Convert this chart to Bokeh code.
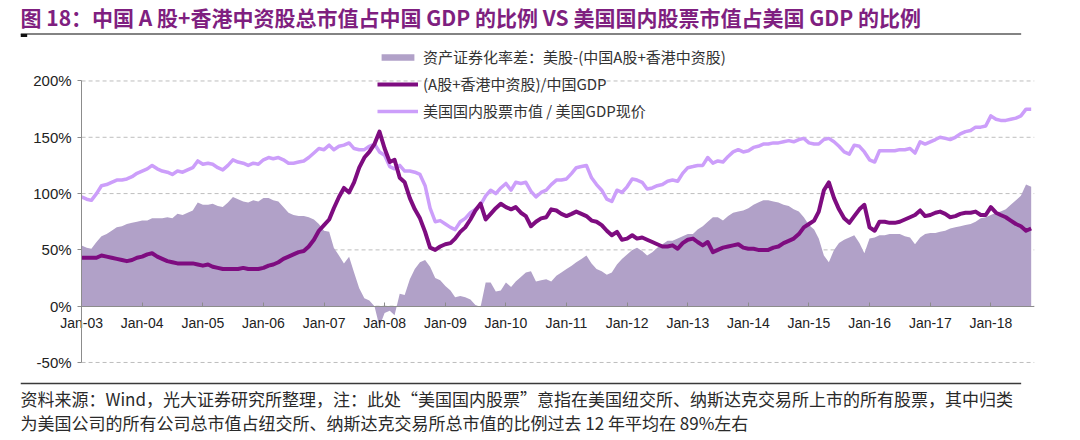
import pandas as pd
from datetime import datetime
from bokeh.plotting import figure
from bokeh.models import (ColumnDataSource, Range1d, FixedTicker, PrintfTickFormatter,
                          Legend, LegendItem)
from bokeh.layouts import column
from bokeh.embed import file_html
from bokeh.resources import INLINE
from bokeh.core.properties import value

# ---------------- texts ----------------
TITLE = "图 18：中国 A 股+香港中资股总市值占中国 GDP 的比例  VS  美国国内股票市值占美国 GDP 的比例"
SERIES_NAMES = [
    "资产证券化率差：美股-(中国A股+香港中资股)",
    "(A股+香港中资股)/中国GDP",
    "美国国内股票市值 / 美国GDP现价",
]
NOTE_LINES = [
    "资料来源：Wind，光大证券研究所整理，注：此处“美国国内股票”意指在美国纽交所、纳斯达克交易所上市的所有股票，其中归类",
    "为美国公司的所有公司总市值占纽交所、纳斯达克交易所总市值的比例过去 12 年平均在 89%左右",
]
START_MONTH = "2003-01-01"
TICK_LABELS = ["Jan-03", "Jan-04", "Jan-05", "Jan-06", "Jan-07", "Jan-08", "Jan-09", "Jan-10",
               "Jan-11", "Jan-12", "Jan-13", "Jan-14", "Jan-15", "Jan-16", "Jan-17", "Jan-18"]
Y_TICKS = [-50, 0, 50, 100, 150, 200]

# ---------------- data (% , monthly from Jan-03) ----------------
gap_pct = [
    54, 52, 51, 57, 62, 64, 67, 70, 71, 73, 74, 75,
    76, 76, 78, 78, 78, 79, 78, 82, 81, 83, 85, 92,
    90, 90, 91, 89, 88, 92, 97, 95, 93, 92, 94, 93,
    96, 96, 94, 93, 88, 83, 81, 80, 80, 79, 77, 73,
    67, 66, 52, 45, 38, 44, 30, 16, 7, 5, 0, -18,
    -6, -4, -8, 11, 10, 24, 33, 39, 41, 35, 25, 23,
    18, 14, 8, 9, 8, 6, 1, -1, 21, 21, 13, 14,
    21, 17, 22, 26, 30, 31, 22, 23, 24, 22, 27, 30,
    33, 36, 39, 42, 45, 38, 33, 31, 28, 30, 37, 42,
    46, 50, 52, 49, 45, 48, 52, 55, 58, 58, 60, 62,
    64, 64, 68, 71, 75, 79, 79, 76, 80, 83, 84, 85,
    87, 90, 92, 94, 94, 93, 92, 90, 89, 86, 84, 79,
    72, 68, 60, 45, 39, 50, 56, 59, 61, 63, 56, 47,
    60, 61, 63, 63, 64, 64, 64, 62, 61, 55, 61, 64,
    65, 65, 66, 67, 69, 70, 71, 72, 73, 75, 78, 79,
    81, 83, 84, 86, 90, 94, 98, 108, 106,
]
china_pct = [
    43, 43, 43, 43, 45, 44, 43, 42, 41, 40, 41, 43,
    44, 46, 47, 44, 42, 40, 39, 38, 38, 38, 38, 37,
    36, 37, 35, 34, 33, 33, 33, 33, 34, 33, 33, 33,
    34, 36, 37, 39, 42, 44, 46, 48, 49, 53, 59, 67,
    72, 77, 87, 97, 105, 101, 110, 123, 132, 137, 144, 155,
    140, 128, 130, 114, 110, 96, 86, 78, 66, 52, 50, 53,
    55, 56, 60, 66, 70, 77, 85, 91, 77, 82, 87, 91,
    88, 86, 88, 83, 80, 71, 75, 78, 79, 86, 85, 82,
    80, 82, 84, 82, 80, 76, 75, 72, 67, 63, 66, 59,
    60, 63, 60, 61, 59, 57, 55, 53, 53, 54, 51, 56,
    59, 60, 57, 54, 57, 48, 50, 52, 53, 54, 55, 52,
    51, 51, 50, 50, 50, 52, 53, 56, 58, 60, 64, 70,
    73, 76, 84, 103, 110, 96, 86, 78, 74, 80, 86, 90,
    70, 67, 75, 75, 74, 74, 75, 77, 79, 81, 85, 80,
    81, 83, 84, 82, 79, 80, 82, 83, 83, 84, 81, 81,
    88, 83, 81, 79, 76, 73, 71, 67, 69,
]
us_pct = [
    97, 95, 94, 100, 107, 108, 110, 112, 112, 113, 115, 118,
    120, 122, 125, 122, 120, 119, 117, 120, 119, 121, 123, 129,
    126, 127, 126, 123, 121, 125, 130, 128, 127, 125, 127, 126,
    130, 132, 131, 132, 130, 127, 127, 128, 129, 132, 136, 140,
    139, 143, 139, 142, 143, 145, 140, 139, 139, 142, 144, 137,
    134, 124, 122, 125, 120, 120, 119, 117, 107, 87, 75, 76,
    73, 70, 68, 75, 78, 83, 86, 90, 98, 103, 100, 105,
    109, 103, 110, 109, 110, 102, 97, 101, 103, 108, 112, 112,
    113, 118, 123, 124, 125, 114, 108, 103, 95, 93, 103, 101,
    106, 113, 112, 110, 104, 105, 107, 108, 111, 112, 111, 118,
    123, 124, 125, 125, 132, 127, 129, 128, 133, 137, 139, 137,
    138, 141, 142, 144, 144, 145, 145, 146, 147, 146, 148, 149,
    145, 144, 144, 148, 149, 146, 142, 137, 135, 143, 142, 137,
    130, 128, 138, 138, 138, 138, 139, 139, 140, 136, 146, 144,
    146, 148, 150, 149, 148, 150, 153, 155, 156, 159, 159, 160,
    169, 166, 165, 165, 166, 167, 169, 175, 175,
]

dates = pd.date_range(START_MONTH, periods=len(us_pct), freq="MS")
src = ColumnDataSource(dict(date=dates, gap=gap_pct, china=china_pct, us=us_pct))

# ---------------- styles ----------------
CJK = "Noto Sans CJK SC"
LATIN = "Liberation Sans"
TITLE_COLOR = "#7F1F80"
GAP_COLOR = "#B1A1C8"
CN_COLOR = "#7E0C80"
US_COLOR = "#CC9EFA"
AXIS_GRAY = "#8C8C8C"
GRID_GRAY = "#BEBEBE"
TEXT_COLOR = "#222222"
W = 1064


def to_ms(ts):
    return (pd.Timestamp(ts) - pd.Timestamp("1970-01-01")).total_seconds() * 1000.0


def tick_ms(label):
    return to_ms(datetime(2000 + int(label.split("-")[1]), 1, 1))


x_ticks = [tick_ms(l) for l in TICK_LABELS]
axis_start = x_ticks[0]
view_start = to_ms(pd.Timestamp(START_MONTH) - pd.Timedelta(days=368))
view_end = to_ms("2018-09-21")


def deco_fig(h):
    f = figure(width=W, height=h, x_range=Range1d(0, W), y_range=Range1d(h, 0),
               toolbar_location=None, output_backend="svg", min_border=0,
               outline_line_color=None, x_axis_location=None, y_axis_location=None,
               title=None)
    f.grid.visible = False
    return f


# ---------------- header ----------------
head = deco_fig(44)
head.text(x=[0], y=[16.5], text=[TITLE], text_font=value(CJK), text_font_style="bold",
          text_font_size="21px", text_color=TITLE_COLOR, text_baseline="middle",
          text_align="left")
head.segment(x0=[0], y0=[33.5], x1=[1050], y1=[33.5], line_color="#5A5A5A", line_width=1.5)
head.segment(x0=[0], y0=[35], x1=[7], y1=[35], line_color="#111111", line_width=3)

# ---------------- main chart ----------------
p = figure(width=W, height=328, x_axis_type="datetime",
           x_range=Range1d(view_start, view_end),
           y_range=Range1d(-58.9, 232.4),
           toolbar_location=None, output_backend="svg",
           min_border_left=20, min_border_right=30, min_border_top=0, min_border_bottom=0,
           outline_line_color=None, title=None, background_fill_color="white")

# dashed grid lines, from the y axis to the right edge
n = len(Y_TICKS)
p.segment(x0=[axis_start] * n, y0=Y_TICKS, x1=[view_end] * n, y1=Y_TICKS,
          line_color=GRID_GRAY, line_dash="4 3", line_width=1, level="underlay")

r_gap = p.varea(x="date", y1=0, y2="gap", source=src, fill_color=GAP_COLOR, fill_alpha=1.0)
r_us = p.line("date", "us", source=src, line_color=US_COLOR, line_width=3.5, line_join="round")
r_cn = p.line("date", "china", source=src, line_color=CN_COLOR, line_width=4, line_join="round")

xa = p.xaxis[0]
xa.fixed_location = 0
xa.bounds = (axis_start, view_end)
xa.ticker = FixedTicker(ticks=x_ticks)
xa.major_label_overrides = dict(zip(x_ticks, TICK_LABELS))
xa.minor_tick_line_color = None
xa.major_tick_in = 4
xa.major_tick_out = 0
xa.axis_line_color = AXIS_GRAY
xa.major_tick_line_color = AXIS_GRAY
xa.major_label_text_font = LATIN
xa.major_label_text_font_size = "14px"
xa.major_label_text_color = TEXT_COLOR
xa.major_label_standoff = 9

ya = p.yaxis[0]
ya.fixed_location = axis_start
ya.ticker = FixedTicker(ticks=Y_TICKS)
ya.formatter = PrintfTickFormatter(format="%d%%")
ya.bounds = (-50, 200)
ya.major_tick_out = 4
ya.major_tick_in = 0
ya.minor_tick_line_color = None
ya.axis_line_color = AXIS_GRAY
ya.major_tick_line_color = AXIS_GRAY
ya.major_label_text_font = LATIN
ya.major_label_text_font_size = "15px"
ya.major_label_text_color = TEXT_COLOR
ya.major_label_standoff = 6

p.xgrid.visible = False
p.ygrid.visible = False

legend = Legend(items=[LegendItem(label=SERIES_NAMES[0], renderers=[r_gap]),
                       LegendItem(label=SERIES_NAMES[1], renderers=[r_cn]),
                       LegendItem(label=SERIES_NAMES[2], renderers=[r_us])],
                location=(357, 251), orientation="vertical",
                glyph_width=41, glyph_height=8, label_height=8, label_width=10,
                label_standoff=5, spacing=6, padding=0, margin=0,
                border_line_alpha=0, background_fill_alpha=0,
                label_text_font=CJK, label_text_font_size="15px",
                label_text_color="#333333", label_text_line_height=0.5)
p.add_layout(legend)

# ---------------- footer ----------------
foot = deco_fig(66)
foot.segment(x0=[0], y0=[11], x1=[1050], y1=[11], line_color="#3A3A3A", line_width=1.5)
foot.text(x=[0, 0], y=[25.5, 50], text=NOTE_LINES, text_font=value(CJK),
          text_font_size="17px", text_color="#2A2A2A", text_baseline="middle",
          text_align="left")

layout = column(head, p, foot, spacing=0)
open("out.html", "w").write(file_html(layout, INLINE, title="chart"))
